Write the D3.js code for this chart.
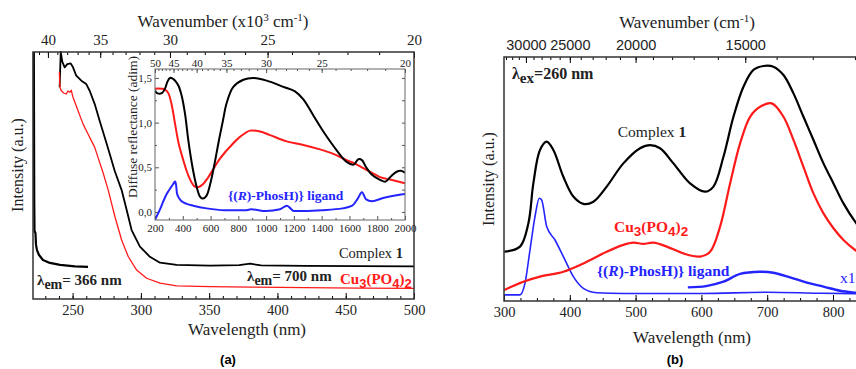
<!DOCTYPE html>
<html>
<head>
<meta charset="utf-8">
<script src="https://cdn.jsdelivr.net/npm/d3@7"></script>
<style>
  body { margin: 0; background: #fff; }
  svg { display: block; }
</style>
</head>
<body>
<div id="chart"></div>
<script>
// ---------- panel (a): excitation spectra, [wavelength nm, intensity a.u.] ----------
const excLigand366 = [[221.6, 100], [221.9, 40], [222.1, 27.5], [222.8, 26.7], [223.2, 21.9], [223.9, 19.8],
  [225.4, 17.8], [228.3, 15.8], [233.4, 14.6], [240.8, 13.8], [251.7, 13.2], [261.3, 13]];
const excComplex700 = [[240.5, 85.7], [241.3, 100], [242.5, 96], [244.2, 93.8], [246.1, 95.1], [248.6, 95.4],
  [250.3, 93.8], [252.7, 90.4], [256.4, 88.4], [260, 87], [262.5, 84.3], [266.2, 78.9], [269.8, 72.2],
  [273.5, 65.5], [277.2, 58.7], [280.8, 51.9], [285.9, 44.1], [289.6, 36], [293.2, 27.9], [299.3, 21.2],
  [306.6, 17.1], [314, 14.7], [326.2, 13.8], [350.6, 13.5], [372, 13.7], [380, 14.3], [388, 13.6],
  [420, 13.4], [460, 13.3], [500, 13.2]];
const excCu700 = [[240.3, 91.9], [240.7, 85.7], [241.7, 84.3], [243.5, 83.4], [245.4, 83], [246.5, 84.2],
  [247.9, 83.7], [249, 84.5], [250.3, 81.7], [254, 76.2], [257.6, 70.9], [261.3, 66.8], [266.2, 61.4],
  [269.8, 55.3], [272.2, 51.3], [276.1, 44.1], [281, 33.3], [285.9, 23.9], [290.8, 17.1], [296.9, 11.7],
  [304.2, 8.4], [314, 6.4], [326.2, 5.3], [350.6, 5], [380, 4.8], [420, 4.6], [460, 4.4], [500, 4.3]];

const waveA = [221, 500];
const wnTicksA = [40, 35, 30, 25, 20];           // x10^3 cm-1
const wlTicksA = [250, 300, 350, 400, 450, 500];

// ---------- inset: diffuse reflectance, [wavelength nm, reflectance] ----------
const drComplex = [[200, 1.36], [215, 1.33], [250, 1.33], [272, 1.38], [290, 1.46], [308, 1.5], [330, 1.49],
  [350, 1.46], [370, 1.41], [392, 1.3], [416, 1.1], [440, 0.8], [470, 0.5], [500, 0.28], [525, 0.17],
  [545, 0.15], [570, 0.18], [600, 0.33], [630, 0.55], [660, 0.8], [690, 1.03], [716, 1.22], [764, 1.4],
  [836, 1.48], [908, 1.5], [1004, 1.47], [1124, 1.4], [1208, 1.35], [1268, 1.26], [1340, 1.08],
  [1412, 0.9], [1508, 0.69], [1580, 0.56], [1630, 0.53], [1664, 0.59], [1690, 0.58], [1720, 0.5],
  [1760, 0.42], [1820, 0.36], [1860, 0.34], [1900, 0.4], [1940, 0.45], [1970, 0.46], [2000, 0.44]];
const drCu = [[200, 1.38], [272, 1.37], [296, 1.33], [320, 1.2], [345, 0.98], [370, 0.77], [400, 0.6],
  [430, 0.45], [460, 0.34], [490, 0.28], [515, 0.28], [545, 0.31], [580, 0.38], [620, 0.48], [660, 0.58],
  [700, 0.66], [740, 0.73], [812, 0.84], [884, 0.91], [956, 0.9], [1028, 0.86], [1148, 0.79], [1268, 0.75],
  [1388, 0.7], [1484, 0.65], [1580, 0.58], [1640, 0.54], [1700, 0.49], [1760, 0.44], [1820, 0.39],
  [1900, 0.36], [2000, 0.32]];
const drLigand = [[200, -0.09], [212, -0.05], [236, 0.03], [260, 0.12], [284, 0.2], [308, 0.26], [330, 0.31],
  [344, 0.34], [352, 0.3], [358, 0.21], [375, 0.15], [392, 0.12], [430, 0.09], [476, 0.07], [572, 0.04],
  [700, 0.02], [860, 0.02], [890, 0.03], [1000, 0.01], [1100, 0.03], [1150, 0.07], [1175, 0.04],
  [1200, 0.01], [1400, 0.02], [1550, 0.04], [1620, 0.07], [1660, 0.15], [1690, 0.22], [1720, 0.14],
  [1760, 0.12], [1850, 0.16], [1950, 0.19], [2000, 0.2]];

const drWlTicks = [200, 400, 600, 800, 1000, 1200, 1400, 1600, 1800, 2000];
const drYTicks = [0, 0.5, 1, 1.5];
const drWnTicks = [50, 45, 40, 35, 30, 25, 20];

// ---------- panel (b): emission spectra, lambda_ex = 260 nm ----------
const emComplex = [[300.5, 20.2], [324.3, 22.3], [337, 31.8], [344.6, 48.2], [354.7, 61.9], [364.9, 65.3],
  [375, 61.9], [390.2, 50.9], [405.4, 42.8], [420.6, 39.8], [435.8, 40.7], [456.1, 46.9], [481.4, 56.4],
  [506.8, 62.6], [522, 63.9], [537.2, 62.6], [557.5, 56.4], [582.8, 48.2], [605.6, 44.8], [618.3, 46.9],
  [633.5, 59.1], [648.7, 75.5], [663.9, 87.8], [679.1, 94.7], [694.3, 96.3], [709.5, 96], [724.7, 92.6],
  [739.9, 85.1], [755.1, 75.5], [770.3, 66], [785.5, 56.4], [800.7, 48.2], [815.9, 40], [833.6, 32.5],
  [850, 27]];
const emCu = [[300.5, 4.5], [329.4, 7.9], [354.7, 10], [390.2, 12], [420.6, 15.4], [456.1, 20.2],
  [481.4, 23], [496.6, 23.9], [511.8, 23.4], [527, 23.9], [547.3, 22.3], [572.6, 19.5], [598, 18.2],
  [613.2, 20.2], [628.4, 30.5], [643.6, 48.2], [658.8, 64.6], [674, 75.5], [689.2, 79.6], [707, 81],
  [724.7, 75.5], [739.9, 66], [755.1, 55], [770.3, 44.1], [785.5, 35.9], [800.7, 29.8], [815.9, 25],
  [833.6, 20.9], [850, 18]];
const emLigand = [[300.5, 2.5], [324.3, 2.5], [331.9, 7.3], [339.5, 20.9], [347.1, 34.6], [353.7, 42.1],
  [357.2, 41.4], [364.9, 30.5], [377.5, 25], [390.2, 18.2], [405.4, 10], [420.6, 5.2], [440.9, 3.4],
  [481.4, 3.1], [600, 3.1], [700, 3.6], [780, 3.2], [850, 3]];
const emLigandX10 = [[579.4, 5.6], [607.2, 6.1], [633.5, 7.9], [658.8, 11.1], [689.2, 12], [709.5, 11.6],
  [734.8, 9.7], [760.2, 7.5], [785.5, 5.9], [810.8, 4.2], [833.6, 3.4], [850, 3]];

const waveB = [300, 850];
const wlTicksB = [300, 400, 500, 600, 700, 800];
const wnTicksB = [30000, 25000, 20000, 15000];

const RED = "#ff1a1a", BLUE = "#2424ff";
const SERIF = "'Liberation Serif', 'Times New Roman', 'Nimbus Roman', 'DejaVu Serif', serif";
const SANS = "'Liberation Sans', Arial, sans-serif";

const svg = d3.select("#chart").append("svg")
  .attr("width", 856)
  .attr("height", 369);

function range(a, b, step) {
  const out = [];
  for (let v = a; step > 0 ? v <= b + 1e-9 : v >= b - 1e-9; v += step) out.push(+v.toFixed(6));
  return out;
}

function styleAxis(g, size, color, family) {
  g.select(".domain").remove();
  g.selectAll("line").attr("stroke", color || "#000");
  g.selectAll("text")
    .style("font-size", size + "px")
    .style("font-family", family || SERIF)
    .attr("fill", "#222");
}

function drawLine(g, data, x, y, color, width, curve) {
  g.append("path")
    .datum(data)
    .attr("fill", "none")
    .attr("stroke", color)
    .attr("stroke-width", width)
    .attr("stroke-linejoin", "round")
    .attr("d", d3.line().x(d => x(d[0])).y(d => y(d[1])).curve(curve || d3.curveCatmullRom.alpha(0.5)));
}

// plain serif label helper
function label(g, x, y, size, anchor) {
  return g.append("text").attr("x", x).attr("y", y)
    .attr("text-anchor", anchor || "start")
    .attr("fill", "#222")
    .style("font-family", SERIF)
    .style("font-size", size + "px");
}

// ================= PANEL (a) =================
const a = { left: 33, right: 414, top: 52, bottom: 299 };
const xA = d3.scaleLinear().domain(waveA).range([a.left, a.right]);
const yA = d3.scaleLinear().domain([0, 100]).range([a.bottom, a.top]);
// top axis is reciprocal: wavelength-equivalent 1e4 / k (k in 10^3 cm-1)
const xAtop = d3.scaleLinear().domain([239.8, 500]).range([a.left, a.right]);

const gA = svg.append("g");

gA.append("g")
  .attr("transform", `translate(0,${a.bottom})`)
  .call(d3.axisBottom(xA).tickValues(range(230, 500, 10)).tickFormat("").tickSize(-3))
  .call(g => styleAxis(g, 14));
gA.append("g")
  .attr("transform", `translate(0,${a.bottom})`)
  .call(d3.axisBottom(xA).tickValues(wlTicksA).tickSize(-6).tickPadding(6))
  .call(g => styleAxis(g, 14.5));

gA.append("g")
  .attr("transform", `translate(0,${a.top})`)
  .call(d3.axisTop(xAtop).tickValues(range(41, 21, -1).map(k => 1e4 / k)).tickFormat("").tickSize(-3))
  .call(g => styleAxis(g, 15));
gA.append("g")
  .attr("transform", `translate(0,${a.top})`)
  .call(d3.axisTop(xAtop).tickValues(wnTicksA.map(k => 1e4 / k)).tickFormat(d => Math.round(1e4 / d)).tickSize(-6).tickPadding(7))
  .call(g => styleAxis(g, 15));

const curvesA = gA.append("g");
drawLine(curvesA, excLigand366, xA, yA, "#000", 2.2, d3.curveLinear);
drawLine(curvesA, excComplex700, xA, yA, "#000", 1.8, d3.curveLinear);
drawLine(curvesA, excCu700, xA, yA, RED, 1.3, d3.curveLinear);

gA.append("rect")
  .attr("x", a.left).attr("y", a.top)
  .attr("width", a.right - a.left).attr("height", a.bottom - a.top)
  .attr("fill", "none").attr("stroke", "#333").attr("stroke-width", 1.5);

// ---- inset ----
const ins = { left: 155, right: 405, top: 69, bottom: 220 };
const xI = d3.scaleLinear().domain([200, 2000]).range([ins.left, ins.right]);
const yI = d3.scaleLinear().domain([-0.09, 1.6]).range([ins.bottom, ins.top]);
const xItop = d3.scaleLinear().domain([200, 500]).range([ins.left, ins.right]);
const gI = gA.append("g");

gI.append("rect")
  .attr("x", ins.left).attr("y", ins.top)
  .attr("width", ins.right - ins.left).attr("height", ins.bottom - ins.top)
  .attr("fill", "#fff");

gI.append("g").attr("transform", `translate(0,${ins.bottom})`)
  .call(d3.axisBottom(xI).tickValues(range(300, 1900, 200)).tickFormat("").tickSize(-2))
  .call(g => styleAxis(g, 11, "#555"));
gI.append("g").attr("transform", `translate(0,${ins.bottom})`)
  .call(d3.axisBottom(xI).tickValues(drWlTicks).tickFormat(d3.format("d")).tickSize(-4).tickPadding(4))
  .call(g => styleAxis(g, 11, "#555"));
gI.append("g").attr("transform", `translate(0,${ins.top})`)
  .call(d3.axisTop(xItop).tickValues(range(49, 21, -1).map(k => 1e4 / k)).tickFormat("").tickSize(-2))
  .call(g => styleAxis(g, 11, "#555"));
gI.append("g").attr("transform", `translate(0,${ins.top})`)
  .call(d3.axisTop(xItop).tickValues(drWnTicks.map(k => 1e4 / k)).tickFormat(d => Math.round(1e4 / d)).tickSize(-4).tickPadding(2))
  .call(g => styleAxis(g, 11, "#555"));
gI.append("g").attr("transform", `translate(${ins.left},0)`)
  .call(d3.axisLeft(yI).tickValues(range(0.25, 1.25, 0.5)).tickFormat("").tickSize(-2))
  .call(g => styleAxis(g, 11, "#555"));
gI.append("g").attr("transform", `translate(${ins.left},0)`)
  .call(d3.axisLeft(yI).tickValues(drYTicks).tickFormat(d => d3.format(".1f")(d).replace(".", ",")).tickSize(-4).tickPadding(3))
  .call(g => styleAxis(g, 11, "#555"));
gI.append("g").attr("transform", `translate(${ins.right},0)`)
  .call(d3.axisRight(yI).tickValues(range(0, 1.5, 0.25)).tickFormat("").tickSize(-3))
  .call(g => styleAxis(g, 11, "#555"));

gI.append("clipPath").attr("id", "clipI").append("rect")
  .attr("x", ins.left).attr("y", ins.top).attr("width", ins.right - ins.left).attr("height", ins.bottom - ins.top);
const curvesI = gI.append("g").attr("clip-path", "url(#clipI)");
drawLine(curvesI, drCu, xI, yI, RED, 2);
drawLine(curvesI, drComplex, xI, yI, "#000", 2);
drawLine(curvesI, drLigand, xI, yI, BLUE, 2, d3.curveMonotoneX);

gI.append("rect")
  .attr("x", ins.left).attr("y", ins.top)
  .attr("width", ins.right - ins.left).attr("height", ins.bottom - ins.top)
  .attr("fill", "none").attr("stroke", "#666").attr("stroke-width", 1);

label(gI, 0, 0, 13.5, "middle")
  .attr("x", null).attr("y", null)
  .attr("transform", `translate(137,127) rotate(-90)`)
  .text("Diffuse reflectance (adim)");

const ligI = label(gI, 228, 200, 13.5).attr("fill", BLUE).style("font-weight", "bold");
ligI.append("tspan").text("{(");
ligI.append("tspan").style("font-style", "italic").text("R");
ligI.append("tspan").text(")-PhosH)} ligand");

// ---- panel (a) labels ----
const tA = label(gA, 223, 27, 17, "middle");
tA.append("tspan").text("Wavenumber (x10");
tA.append("tspan").attr("dy", -6).style("font-size", "11px").text("3");
tA.append("tspan").attr("dy", 6).text(" cm");
tA.append("tspan").attr("dy", -6).style("font-size", "11px").text("-1");
tA.append("tspan").attr("dy", 6).text(")");

label(gA, 247, 335, 17, "middle").text("Wavelength (nm)");
label(gA, 0, 0, 16, "middle").attr("x", null).attr("y", null)
  .attr("transform", "translate(23,165) rotate(-90)").text("Intensity (a.u.)");
label(gA, 228, 364, 13, "middle")
  .style("font-family", SANS).style("font-weight", "bold").attr("fill", "#000").text("(a)");

function lambdaLabel(g, x, y, sub, rest, size) {
  const t = label(g, x, y, size).style("font-weight", "bold");
  t.append("tspan").text("λ");
  t.append("tspan").attr("dy", 4).style("font-size", (size - 1) + "px").text(sub);
  t.append("tspan").attr("dy", -4).text(rest);
  return t;
}

function cuLabel(g, x, y, size) {
  const t = label(g, x, y, size).style("font-weight", "bold").attr("fill", RED);
  const sub = (s) => t.append("tspan").attr("dy", 4)
    .style("font-family", SANS).style("font-size", (size - 2) + "px").text(s);
  const norm = (s) => t.append("tspan").attr("dy", -4).text(s);
  t.append("tspan").text("Cu");
  sub("3"); norm("(PO"); sub("4"); norm(")"); sub("2");
  return t;
}

function complexLabel(g, x, y, size, anchor) {
  const t = label(g, x, y, size, anchor);
  t.append("tspan").text("Complex ");
  t.append("tspan").style("font-weight", "bold").text("1");
}

lambdaLabel(gA, 37, 285, "em", "= 366 nm", 15);
lambdaLabel(gA, 247, 281, "em", "= 700 nm", 15);
cuLabel(gA, 340, 284, 15);
complexLabel(gA, 403, 258, 14.5, "end");

// ================= PANEL (b) =================
const b = { left: 504, right: 504 + 550 * 0.658, top: 57, bottom: 301 };
const xB = d3.scaleLinear().domain(waveB).range([b.left, b.right]);
const yB = d3.scaleLinear().domain([0, 100]).range([b.bottom, b.top]);
const gB = svg.append("g");

gB.append("g").attr("transform", `translate(0,${b.bottom})`)
  .call(d3.axisBottom(xB).tickValues(range(325, 850, 25)).tickFormat("").tickSize(-3))
  .call(g => styleAxis(g, 14.5));
gB.append("g").attr("transform", `translate(0,${b.bottom})`)
  .call(d3.axisBottom(xB).tickValues(wlTicksB).tickSize(-6).tickPadding(6))
  .call(g => styleAxis(g, 14.5));
gB.append("g").attr("transform", `translate(0,${b.top})`)
  .call(d3.axisTop(xB).tickValues(range(33000, 12000, -1000).map(k => 1e7 / k)).tickFormat("").tickSize(-3))
  .call(g => styleAxis(g, 14.5));
gB.append("g").attr("transform", `translate(0,${b.top})`)
  .call(d3.axisTop(xB).tickValues(wnTicksB.map(k => 1e7 / k)).tickFormat(d => Math.round(1e7 / d)).tickSize(-6).tickPadding(7))
  .call(g => styleAxis(g, 14.5, "#000", SANS));

const curvesB = gB.append("g");
drawLine(curvesB, emLigand, xB, yB, BLUE, 1.6, d3.curveMonotoneX);
drawLine(curvesB, emLigandX10, xB, yB, BLUE, 2.4);
drawLine(curvesB, emCu, xB, yB, RED, 2.2);
drawLine(curvesB, emComplex, xB, yB, "#000", 2.2);

gB.append("rect")
  .attr("x", b.left).attr("y", b.top)
  .attr("width", b.right - b.left).attr("height", b.bottom - b.top)
  .attr("fill", "none").attr("stroke", "#333").attr("stroke-width", 1.5);

const tB = label(gB, 687, 28, 17, "middle");
tB.append("tspan").text("Wavenumber (cm");
tB.append("tspan").attr("dy", -6).style("font-size", "11px").text("-1");
tB.append("tspan").attr("dy", 6).text(")");

label(gB, 692, 343, 17, "middle").text("Wavelength (nm)");
label(gB, 0, 0, 16, "middle").attr("x", null).attr("y", null)
  .attr("transform", "translate(494,179) rotate(-90)").text("Intensity (a.u.)");
label(gB, 675, 364, 13, "middle")
  .style("font-family", SANS).style("font-weight", "bold").attr("fill", "#000").text("(b)");

lambdaLabel(gB, 512, 79, "ex", "=260 nm", 16);
complexLabel(gB, 652, 137, 15.5, "middle");
cuLabel(gB, 614, 232, 15.5);

const ligB = label(gB, 597, 276, 15.5).attr("fill", BLUE).style("font-weight", "bold");
ligB.append("tspan").text("{(");
ligB.append("tspan").style("font-style", "italic").text("R");
ligB.append("tspan").text(")-PhosH)} ligand");

label(gB, 840, 283, 15.5).attr("fill", BLUE).text("x10");
</script>
</body>
</html>
